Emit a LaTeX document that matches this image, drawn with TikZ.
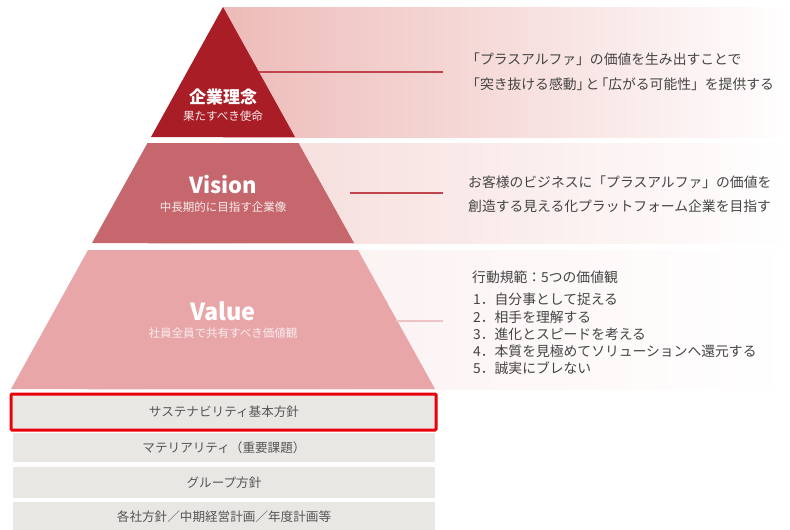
\documentclass[tikz,border=0pt]{standalone}
\usepackage{fontspec}
\setmainfont{Noto Sans CJK JP}
\usetikzlibrary{shapes.geometric}
\definecolor{tierA}{HTML}{A81D26}
\definecolor{tierB}{HTML}{C5676C}
\definecolor{tierC}{HTML}{E9A6A9}
\definecolor{bandA}{HTML}{EDBBB8}
\definecolor{bandB}{HTML}{F4D6D4}
\definecolor{bandC}{HTML}{FAEBEB}
\definecolor{boxgray}{HTML}{E9E7E4}
\definecolor{txtgray}{HTML}{444444}
\definecolor{boxtxt}{HTML}{555555}
\definecolor{hilite}{HTML}{E8000B}
\definecolor{lineA}{HTML}{C0454C}
\definecolor{lineC}{HTML}{EDC3C5}
\tikzset{
  titletxt/.style={text=white, font=\bfseries, inner sep=0pt, anchor=center},
  subtxt/.style={text=white!92!tierA, font=\fontsize{11.5}{13}\selectfont, inner sep=0pt, anchor=center},
  desctxt/.style={text=txtgray, font=\fontsize{13.8}{24.5}\selectfont, align=left, anchor=west, inner sep=0pt},
  listtxt/.style={text=txtgray, font=\fontsize{13.8}{17.2}\selectfont, align=left, anchor=north west, inner sep=0pt},
  graybox/.style={fill=boxgray, draw=none},
  boxlabel/.style={text=boxtxt, font=\fontsize{12.6}{14}\selectfont, inner sep=0pt, anchor=center},
  leader/.style={line width=1.2pt}
}
\begin{document}
\begin{tikzpicture}[x=1pt,y=-1pt]
\useasboundingbox (0,0) rectangle (790,530);
% background bands
\shade[left color=bandA, right color=white] (223,7) rectangle (790,137);
\shade[left color=bandB, right color=white] (148,143) rectangle (790,243);
\shade[left color=bandC, right color=white] (88,250) rectangle (790,389);
% pyramid tiers
\fill[tierA] (223,7) -- (295,137) -- (151,137) -- cycle;
\fill[tierB] (147.5,143) -- (298.5,143) -- (354,243) -- (92,243) -- cycle;
\fill[tierC] (88,250) -- (358,250) -- (435,389) -- (11,389) -- cycle;
% tier labels
\node[titletxt, font=\bfseries\fontsize{17}{20}\selectfont] (t1) at (223,97) {企業理念};
\node[subtxt] (s1) at (223,116) {果たすべき使命};
\node[titletxt, font=\bfseries\fontsize{22}{26}\selectfont] (t2) at (223,185) {Vision};
\node[subtxt] (s2) at (223,207) {中長期的に目指す企業像};
\node[titletxt, font=\bfseries\fontsize{23.5}{28}\selectfont] (t3) at (223,311) {Value};
\node[subtxt] (s3) at (223,333) {社員全員で共有すべき価値観};
% descriptions
\node[desctxt] (d1) at (466,72) {「プラスアルファ」の価値を生み出すことで\\「突き抜ける感動」\kern-0.35emと\kern-0.35em「広がる可能性」を提供する};
\node[desctxt] (d2) at (468,194) {お客様のビジネスに「プラスアルファ」の価値を\\創造する見える化プラットフォーム企業を目指す};
\node[listtxt, anchor=west] (d3h) at (472,277) {行動規範：5つの価値観};
\node[listtxt] (d3) at (473,293) {1．自分事として捉える\\2．相手を理解する\\3．進化とスピードを考える\\4．本質を見極めてソリューションへ還元する\\5．誠実にブレない};
% leader lines
\coordinate (l1a) at (259,72);  \coordinate (l1b) at (443,72);
\coordinate (l2a) at (350,193); \coordinate (l2b) at (443,193);
\coordinate (l3a) at (396,321); \coordinate (l3b) at (443,321);
\draw[leader, lineA] (l1a) -- (l1b);
\draw[leader, lineA] (l2a) -- (l2b);
\draw[leader, lineC] (l3a) -- (l3b);
% gray boxes
\fill[graybox] (13,394) rectangle (435,430);
\fill[graybox] (13,433) rectangle (435,462);
\fill[graybox] (13,467) rectangle (435,498);
\fill[graybox] (13,502) rectangle (435,530);
\node[boxlabel] (b1) at (224,412) {サステナビリティ基本方針};
\node[boxlabel] (b2) at (224,447.5) {マテリアリティ（重要課題）};
\node[boxlabel] (b3) at (224,482.5) {グループ方針};
\node[boxlabel] (b4) at (224,517) {各社方針／中期経営計画／年度計画等};
% highlight
\draw[hilite, line width=3pt, rounded corners=1pt] (11,394) rectangle (436,430);
\end{tikzpicture}
\end{document}
